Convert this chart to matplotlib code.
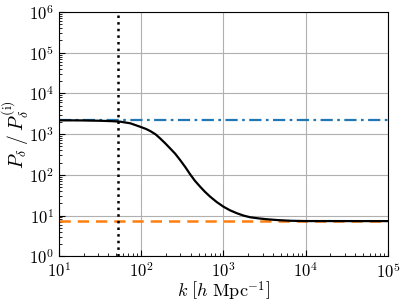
import numpy as np
import matplotlib
matplotlib.use("Agg")
import matplotlib.pyplot as plt

plt.rcParams['font.family'] = 'serif'
plt.rcParams['font.serif'] = ['cmr10']
plt.rcParams['mathtext.fontset'] = 'cm'
plt.rcParams['axes.formatter.use_mathtext'] = True
plt.rcParams['axes.unicode_minus'] = False

# ratio curve
k_vals = [10, 15, 20, 32, 45, 56, 74, 97, 115, 129, 150, 170, 196, 225, 260,
          298, 345, 395, 450, 522, 600, 691, 830, 1003, 1200, 1459, 1750,
          2118, 2700, 3381, 4500, 6500, 10000, 100000]
ratio = [2185, 2180, 2170, 2130, 2080, 2022, 1846, 1524, 1340, 1194, 990, 790,
         600, 449, 330, 232, 155, 103, 72, 51.2, 38, 29.1, 21.5, 16.5, 13.5,
         11.4, 10.0, 9.08, 8.5, 8.11, 7.75, 7.45, 7.32, 7.3]

# reference levels
upper_level = 2190
lower_level = 7.3
k_mark = 52

fig, ax = plt.subplots(figsize=(4.05, 3.08), dpi=100)
ax.grid(True, which='major', color='#b0b0b0', lw=0.8)
ax.set_axisbelow(True)

ax.plot(k_vals, ratio, color='black', lw=1.6, zorder=3)
ax.axhline(upper_level, color='#1f77b4', lw=1.6, zorder=2,
           dashes=(5.5, 2, 1.2, 2))
ax.axhline(lower_level, color='#ff7f0e', lw=1.8, zorder=2, dashes=(4.5, 2.8))
ax.axvline(k_mark, color='black', ls=':', lw=1.8, zorder=4)

ax.set_xscale('log')
ax.set_yscale('log')
ax.set_xlim(1e1, 1e5)
ax.set_ylim(1e0, 1e6)
ax.tick_params(which='both', direction='in', labelsize=12)
ax.tick_params(which='major', length=4)
ax.tick_params(which='minor', length=2)

ax.set_xlabel(r'$k\ \left[h\ \mathrm{Mpc}^{-1}\right]$', fontsize=13)
ax.set_ylabel(r'$P_\delta\;/\;P_\delta^{(\mathrm{i})}$', fontsize=14)
ax.xaxis.set_label_coords(0.5, -0.095)
ax.yaxis.set_label_coords(-0.083, 0.5)

fig.subplots_adjust(left=0.145, right=0.958, top=0.961, bottom=0.168)
fig.savefig('out.png')
